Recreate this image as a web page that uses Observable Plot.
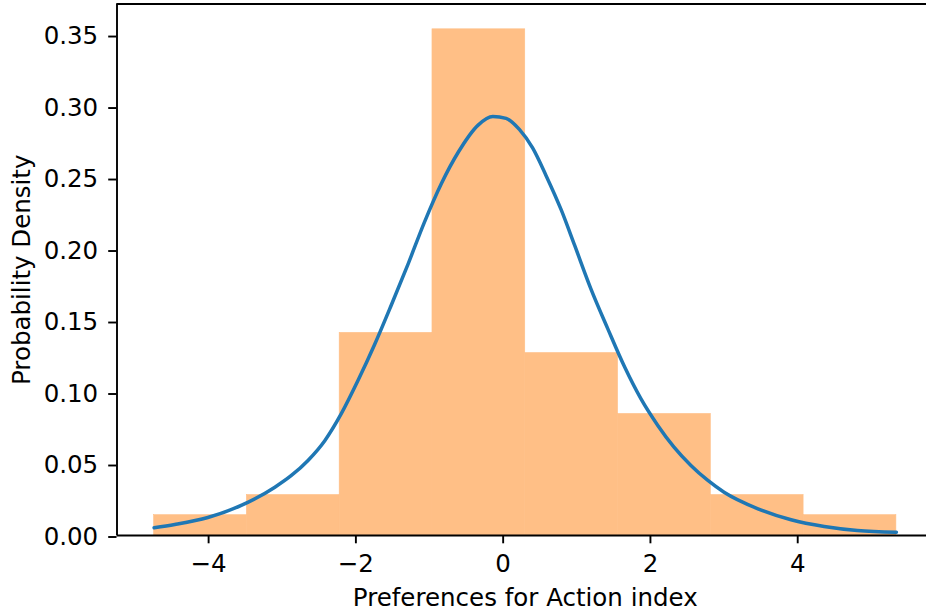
<!DOCTYPE html>
<html><head><meta charset="utf-8">
<script src="https://cdn.jsdelivr.net/npm/d3@7"></script>
<script src="https://cdn.jsdelivr.net/npm/@observablehq/plot@0.6"></script>
<style>html,body{margin:0;padding:0;background:#fff;overflow:hidden;width:926px;height:613px}</style>
</head><body><div id="chart"></div>
<script>
// Histogram (density) bins
const binEdges = [-4.74, -3.48, -2.22, -0.96, 0.30, 1.56, 2.82, 4.08, 5.34];
const binDensity = [0.0142, 0.0283, 0.1417, 0.354, 0.1276, 0.085, 0.0283, 0.0142];

// Density curve (KDE)
const curveX = [-4.74, -4.46, -4.01, -3.55, -3.10, -2.88, -2.65, -2.42, -2.20, -1.97, -1.75, -1.52, -1.29, -1.07, -0.84, -0.61, -0.34, -0.14, 0.04, 0.22, 0.40, 0.58, 0.79, 0.97, 1.19, 1.42, 1.65, 1.87, 2.10, 2.32, 2.55, 2.78, 3.00, 3.46, 3.91, 4.36, 4.81, 5.34];
const curveY = [0.0054, 0.0077, 0.0126, 0.0212, 0.0338, 0.0418, 0.0525, 0.0665, 0.085, 0.1085, 0.133, 0.161, 0.190, 0.219, 0.246, 0.268, 0.287, 0.293, 0.2917, 0.284, 0.271, 0.252, 0.2275, 0.203, 0.1727, 0.1447, 0.1178, 0.0957, 0.077, 0.0618, 0.049, 0.0385, 0.0303, 0.0187, 0.011, 0.0063, 0.0035, 0.0023];

const xTicks = [-4, -2, 0, 2, 4];
const yTicks = [0, 0.05, 0.10, 0.15, 0.20, 0.25, 0.30, 0.35];
const xLabel = "Preferences for Action index";
const yLabel = "Probability Density";

const bins = binDensity.map((d, i) => ({x1: binEdges[i], x2: binEdges[i + 1], y: d}));
const curve = curveX.map((x, i) => ({x, y: curveY[i]}));

const lo = binEdges[0], hi = binEdges[binEdges.length - 1];
const pad = (hi - lo) * 0.05;
const xMin = lo - pad, xMax = hi + pad;
const yMax = d3.max(binDensity) * 1.05;

const FS = 24.5;
const minusFmt = d => (d < 0 ? "\u2212" + Math.abs(d) : String(d));

const chart = Plot.plot({
  width: 926,
  height: 613,
  marginLeft: 116.5,
  marginRight: -7,
  marginTop: 3.5,
  marginBottom: 78,
  style: {fontFamily: "DejaVu Sans", fontSize: FS + "px", color: "black", background: "white", overflow: "hidden"},
  x: {domain: [xMin, xMax]},
  y: {domain: [0, yMax]},
  marks: [
    Plot.rectY(bins, {x1: "x1", x2: "x2", y: "y", fill: "#ffbf86", stroke: "#ffbf86", strokeWidth: 0.6}),
    Plot.line(curve, {x: "x", y: "y", stroke: "#1f77b4", strokeWidth: 3.5, curve: "monotone-x"}),
    Plot.ruleY([0], {stroke: "black", strokeWidth: 1.9}),
    Plot.ruleY([yMax], {stroke: "black", strokeWidth: 1.9}),
    Plot.ruleX([xMin], {stroke: "black", strokeWidth: 1.9}),
    Plot.axisX({ticks: xTicks, tickFormat: minusFmt, tickSize: 8.3, tickPadding: 11, fontSize: FS, stroke: "black", strokeWidth: 1.9, label: null}),
    Plot.axisY({ticks: yTicks, tickFormat: d3.format(".2f"), tickSize: 8.3, tickPadding: 10.5, fontSize: FS, stroke: "black", strokeWidth: 1.9, dy: 1.5, label: null}),
    Plot.text([yLabel], {text: d => d, frameAnchor: "left", dx: -87, rotate: -90, lineAnchor: "bottom", textAnchor: "middle", fontSize: FS, fill: "black"}),
    Plot.text([xLabel], {text: d => d, frameAnchor: "bottom", dy: 70, lineAnchor: "bottom", textAnchor: "middle", fontSize: FS, fill: "black"})
  ]
});
document.getElementById("chart").appendChild(chart);
</script>
</body></html>
